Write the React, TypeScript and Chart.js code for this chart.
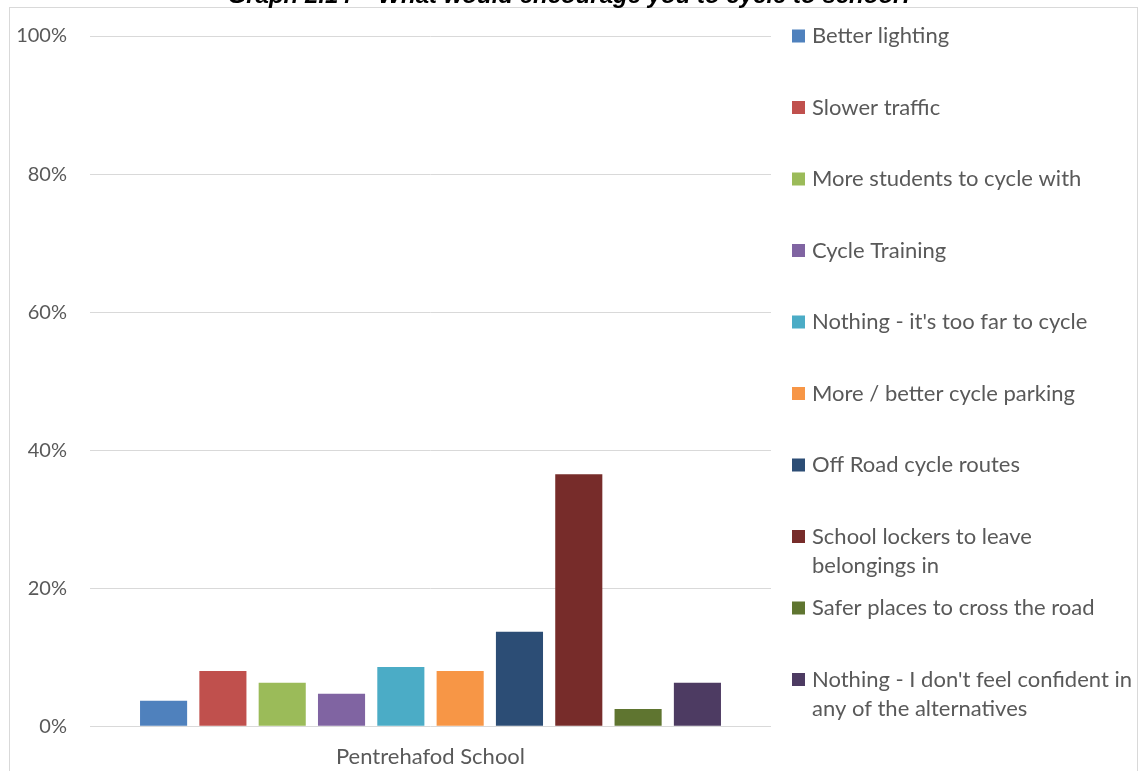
import React, { useEffect, useRef } from "react";
import { Chart, registerables } from "chart.js";

Chart.register(...registerables);

const titleText = "Graph 2.14 – What would encourage you to cycle to school?";
const categories = ["Pentrehafod School"];
const seriesNames: string[][] = [
  ["Better lighting"],
  ["Slower traffic"],
  ["More students to cycle with"],
  ["Cycle Training"],
  ["Nothing - it's too far to cycle"],
  ["More / better cycle parking"],
  ["Off Road cycle routes"],
  ["School lockers to leave", "belongings in"],
  ["Safer places to cross the road"],
  ["Nothing - I don't feel confident in", "any of the alternatives"],
];
const seriesValues = [3.7, 8.0, 6.3, 4.7, 8.6, 8.0, 13.7, 36.5, 2.5, 6.3];
const seriesColors = [
  "#4F81BD",
  "#C0504D",
  "#9BBB59",
  "#8064A2",
  "#4BACC6",
  "#F79646",
  "#2C4D75",
  "#772C2A",
  "#5F7530",
  "#4D3B62",
];
const yTickValues = [0, 20, 40, 60, 80, 100];

const TEXT = "#595959";
const GRID = "#d9d9d9";
const FONT = "Lato";

const framePlugin = {
  id: "frame",
  beforeDraw(chart: any) {
    const ctx = chart.ctx;
    ctx.save();
    ctx.fillStyle = "#ffffff";
    ctx.fillRect(0, 0, chart.width, chart.height);
    ctx.strokeStyle = GRID;
    ctx.lineWidth = 1;
    ctx.strokeRect(9.5, 7.5, 1128, 800);
    ctx.restore();
  },
  afterDraw(chart: any) {
    const ctx = chart.ctx;
    ctx.save();
    ctx.fillStyle = "#000000";
    ctx.font = 'italic bold 24px "Liberation Sans"';
    ctx.textAlign = "center";
    ctx.textBaseline = "alphabetic";
    ctx.fillText(titleText, 571, 3);
    ctx.restore();
  },
};

const legendPlugin = {
  id: "sideLegend",
  afterDraw(chart: any) {
    const ctx = chart.ctx;
    const area = chart.chartArea;
    ctx.save();
    ctx.font = `22px ${FONT}`;
    ctx.textAlign = "left";
    ctx.textBaseline = "alphabetic";
    chart.data.datasets.forEach((ds: any, i: number) => {
      const yc = area.top + 71.5 * i;
      ctx.fillStyle = ds.backgroundColor;
      ctx.fillRect(area.right + 21, yc - 6.5, 13, 13);
      ctx.fillStyle = TEXT;
      seriesNames[i].forEach((line, j) => {
        ctx.fillText(line, area.right + 41, yc + 7 + j * 29.5);
      });
    });
    ctx.restore();
  },
};

export default function App() {
  const ref = useRef<HTMLCanvasElement | null>(null);
  useEffect(() => {
    if (!ref.current) return;
    const chart = new Chart(ref.current, {
      type: "bar",
      data: {
        labels: categories,
        datasets: seriesNames.map((n, i) => ({
          label: n.join(" "),
          data: [seriesValues[i]],
          backgroundColor: seriesColors[i],
          borderWidth: 0,
          categoryPercentage: 0.871,
          barPercentage: 0.794,
        })),
      },
      options: {
        animation: false,
        responsive: false,
        maintainAspectRatio: false,
        layout: { padding: { top: 36, right: 371, left: 0, bottom: 0 } },
        plugins: {
          legend: { display: false },
          tooltip: { enabled: false },
          title: { display: false },
        },
        scales: {
          x: {
            grid: { display: false, drawTicks: false },
            border: { display: false },
            ticks: {
              color: TEXT,
              font: { family: FONT, size: 22 },
              padding: 17,
            },
            afterFit(scale: any) {
              scale.height = 44.7;
            },
          },
          y: {
            min: 0,
            max: 100,
            afterBuildTicks(scale: any) {
              scale.ticks = yTickValues.map((v) => ({ value: v }));
            },
            ticks: {
              color: TEXT,
              font: { family: FONT, size: 20 },
              padding: 23,
              callback: (v: any) => `${v}%`,
            },
            grid: { color: GRID, lineWidth: 1, drawTicks: false },
            border: { display: false },
            afterFit(scale: any) {
              scale.width = 90;
            },
          },
        },
      },
      plugins: [framePlugin, legendPlugin],
    });
    return () => chart.destroy();
  }, []);
  return (
    <canvas
      ref={ref}
      width={1142}
      height={771}
      style={{ position: "absolute", left: 0, top: 0, display: "block" }}
    />
  );
}
